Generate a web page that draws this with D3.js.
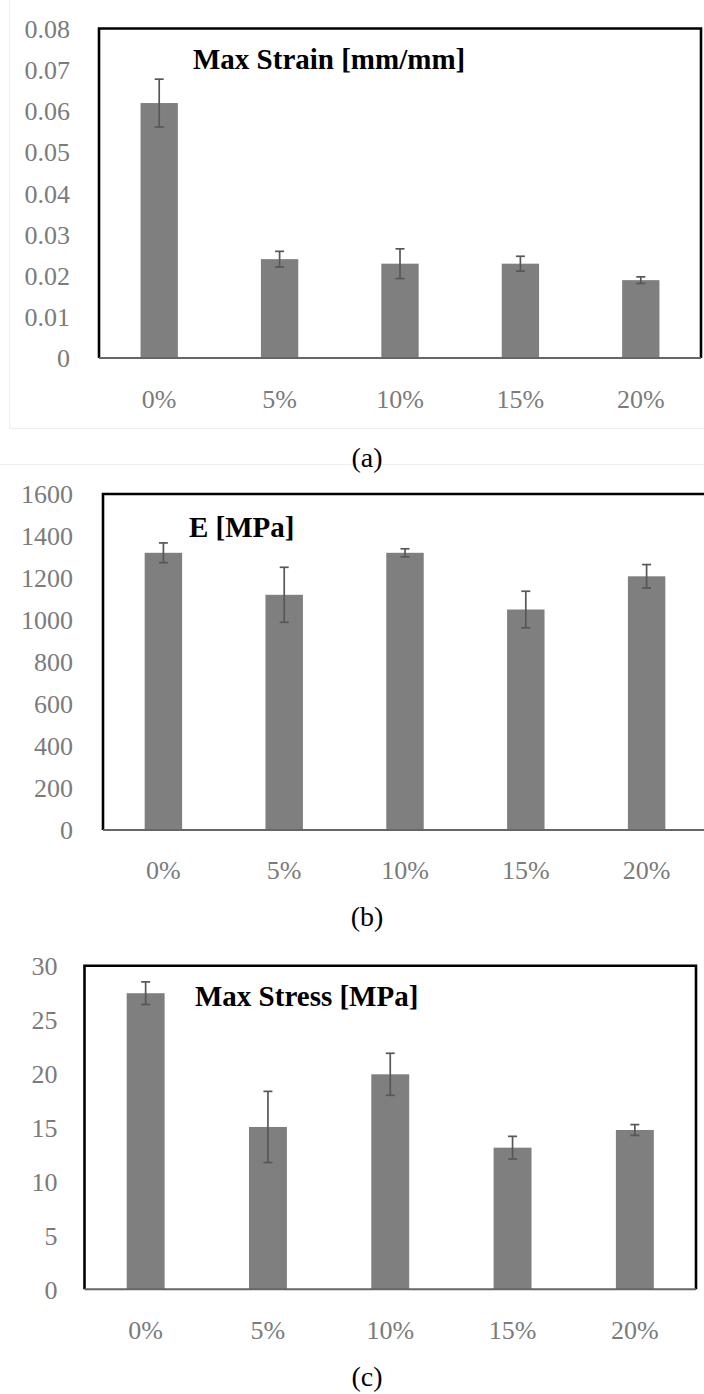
<!DOCTYPE html>
<html>
<head>
<meta charset="utf-8">
<script src="https://cdn.jsdelivr.net/npm/d3@7"></script>
<style>
  body { margin: 0; background: #fff; }
  svg { display: block; }
  .axis text { font-family: "Liberation Serif", serif; font-size: 26px; fill: #7b7b7b; }
  .title { font-family: "Liberation Serif", serif; font-size: 29px; font-weight: bold; fill: #000; }
  .caption { font-family: "Liberation Serif", serif; font-size: 28px; fill: #000; }
  .bar { fill: #7f7f7f; }
  .err { stroke: #575757; stroke-width: 1.7; fill: none; }
  .frame { stroke: #000; stroke-width: 2.6; fill: none; }
  .base { stroke: #666; stroke-width: 2; }
  .faint { stroke: #efefef; stroke-width: 1; }
</style>
</head>
<body>
<svg id="chart" width="704" height="1394"></svg>
<script>
(function () {
    "use strict";

    var categories = ["0%", "5%", "10%", "15%", "20%"];

    // (a) max strain
    var strain = [0.0619, 0.0240, 0.0229, 0.0229, 0.0189],
        strainErr = [0.0058, 0.0019, 0.0036, 0.0018, 0.0008],
        strainTicks = [0, 0.01, 0.02, 0.03, 0.04, 0.05, 0.06, 0.07, 0.08],
        strainLabels = ["0", "0.01", "0.02", "0.03", "0.04", "0.05", "0.06", "0.07", "0.08"];

    // (b) E modulus
    var modulus = [1320, 1120, 1320, 1050, 1208],
        modulusErr = [47, 131, 19, 87, 56],
        modulusTicks = [0, 200, 400, 600, 800, 1000, 1200, 1400, 1600],
        modulusLabels = ["0", "200", "400", "600", "800", "1000", "1200", "1400", "1600"];

    // (c) max stress
    var stress = [27.45, 15.05, 19.93, 13.13, 14.77],
        stressErr = [1.05, 3.3, 1.95, 1.05, 0.5],
        stressTicks = [0, 5, 10, 15, 20, 25, 30],
        stressLabels = ["0", "5", "10", "15", "20", "25", "30"];

    var svg = d3.select("#chart");

    // faint outer borders of the first chart area
    svg.append("line").attr("class", "faint")
        .attr("x1", 9.5).attr("y1", 0).attr("x2", 9.5).attr("y2", 428.5);
    svg.append("line").attr("class", "faint")
        .attr("x1", 9.5).attr("y1", 428.5).attr("x2", 704).attr("y2", 428.5);
    svg.append("line").attr("class", "faint")
        .attr("x1", 0).attr("y1", 464.5).attr("x2", 704).attr("y2", 464.5);

    function panel(p) {
        var x = d3.scaleBand()
            .domain(categories)
            .range([p.left, p.right]),

            y = d3.scaleLinear()
            .domain([0, p.ticks[p.ticks.length - 1]])
            .range([p.bottom, p.top]),

            barW = x.bandwidth() * 0.31,
            g = svg.append("g");

        g.selectAll(".bar")
            .data(p.values)
            .enter().append("rect")
            .attr("class", "bar")
            .attr("x", function (d, i) { return x(categories[i]) + (x.bandwidth() - barW) / 2; })
            .attr("y", function (d) { return y(d); })
            .attr("width", barW)
            .attr("height", function (d) { return y(0) - y(d); });

        // error bars
        var cx = function (i) { return x(categories[i]) + x.bandwidth() / 2; };
        g.selectAll(".errv")
            .data(p.values)
            .enter().append("line")
            .attr("class", "err")
            .attr("x1", function (d, i) { return cx(i); })
            .attr("x2", function (d, i) { return cx(i); })
            .attr("y1", function (d, i) { return y(d - p.errors[i]); })
            .attr("y2", function (d, i) { return y(d + p.errors[i]); });
        [-1, 1].forEach(function (s) {
            g.selectAll(".errc" + s)
                .data(p.values)
                .enter().append("line")
                .attr("class", "err")
                .attr("x1", function (d, i) { return cx(i) - 4.5; })
                .attr("x2", function (d, i) { return cx(i) + 4.5; })
                .attr("y1", function (d, i) { return y(d + s * p.errors[i]); })
                .attr("y2", function (d, i) { return y(d + s * p.errors[i]); });
        });

        // frame and base line
        g.append("path")
            .attr("class", "frame")
            .attr("d", "M" + p.left + "," + p.bottom + "V" + p.top + "H" + p.right + "V" + p.bottom);
        g.append("line")
            .attr("class", "base")
            .attr("x1", p.left).attr("x2", p.right)
            .attr("y1", p.bottom).attr("y2", p.bottom);

        // axes (labels only, no ticks or domain)
        g.append("g")
            .attr("class", "y axis")
            .attr("transform", "translate(" + p.labelRight + ",0)")
            .call(d3.axisLeft(y).tickValues(p.ticks)
                .tickFormat(function (d, i) { return p.labels[i]; })
                .tickSize(0).tickPadding(0))
            .attr("font-family", null).attr("font-size", null)
            .call(function (a) { a.select(".domain").remove(); })
            .selectAll("text").attr("dy", "0.34em");

        g.append("g")
            .attr("class", "x axis")
            .attr("transform", "translate(0," + p.xLabelY + ")")
            .call(d3.axisBottom(x).tickSize(0).tickPadding(0))
            .attr("font-family", null).attr("font-size", null)
            .call(function (a) { a.select(".domain").remove(); })
            .selectAll("text").attr("dy", "0.34em");

        g.append("text")
            .attr("class", "title")
            .attr("x", p.titleX)
            .attr("y", p.titleY)
            .text(p.title);

        g.append("text")
            .attr("class", "caption")
            .attr("x", 367)
            .attr("y", p.captionY)
            .attr("text-anchor", "middle")
            .text(p.caption);
    }

    panel({
        values: strain, errors: strainErr, ticks: strainTicks, labels: strainLabels,
        left: 99, right: 701, top: 28.5, bottom: 358, labelRight: 70, xLabelY: 399,
        title: "Max Strain [mm/mm]", titleX: 193, titleY: 69, caption: "(a)", captionY: 467
    });
    panel({
        values: modulus, errors: modulusErr, ticks: modulusTicks, labels: modulusLabels,
        left: 103, right: 707, top: 494, bottom: 830, labelRight: 73, xLabelY: 870,
        title: "E [MPa]", titleX: 189, titleY: 537, caption: "(b)", captionY: 926
    });
    panel({
        values: stress, errors: stressErr, ticks: stressTicks, labels: stressLabels,
        left: 84.5, right: 696, top: 965.7, bottom: 1289.3, labelRight: 57.5, xLabelY: 1330,
        title: "Max Stress [MPa]", titleX: 195, titleY: 1006, caption: "(c)", captionY: 1386
    });
}());
</script>
</body>
</html>
